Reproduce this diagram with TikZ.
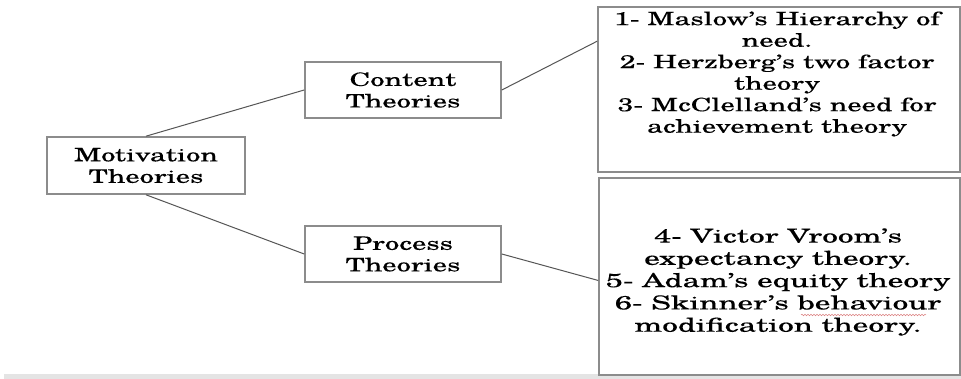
\documentclass[tikz,border=0pt]{standalone}
\usepackage{fontspec}
\setmainfont{texgyreschola-regular.otf}[FakeStretch=1.55, FakeBold=0.12]
\newfontfamily\widelist{texgyreschola-regular.otf}[FakeStretch=1.63, FakeBold=0.12]
\usetikzlibrary{calc,decorations.pathmorphing}

\definecolor{boxline}{RGB}{140,140,140}
\definecolor{linkline}{RGB}{85,85,85}
\definecolor{pageedge}{RGB}{228,228,228}
\definecolor{spellred}{RGB}{220,130,130}

\tikzset{
  x=1pt, y=1pt,
  frame/.style={draw=boxline, line width=1.6pt, fill=white, inner sep=0pt},
  txt/.style={align=center, inner sep=0pt, font=\fontsize{18.5}{21.5}\selectfont},
  txtwide/.style={align=center, inner sep=0pt, font=\widelist\fontsize{19.2}{22.3}\selectfont},
  link/.style={draw=linkline, line width=1pt},
  spellwave/.style={draw=spellred, line width=0.5pt,
    decorate, decoration={snake, amplitude=0.8pt, segment length=3pt}}
}

\begin{document}
\begin{tikzpicture}
\useasboundingbox (0,0) rectangle (961,379);
\fill[white] (0,0) rectangle (961,379);
% light strip along the lower edge
\fill[pageedge] (4,0) rectangle (961,4.5);

% boxes
\node[frame, minimum width=198, minimum height=57] (mot) at (146,213.5) {};
\node[frame, minimum width=196, minimum height=56] (con) at (403,289) {};
\node[frame, minimum width=196, minimum height=56] (pro) at (403,125) {};
\node[frame, minimum width=362, minimum height=165] (lista) at (779,289.5) {};
\node[frame, minimum width=361, minimum height=197] (listb) at (779.5,102.5) {};

% box texts
\node[txt] (motT) at (mot) {Motivation\\Theories};
\node[txt] (conT) at (con) {Content\\Theories};
\node[txt] (proT) at (pro) {Process\\Theories};
\node[txt] (listaT) at (777,305) {1- Maslow’s Hierarchy of\\need.\\2- Herzberg’s two factor\\theory\\3- McClelland’s need for\\achievement theory};
\node[txtwide] (listbT) at (778,97) {4- Victor Vroom’s\\expectancy theory.\\5- Adam’s equity theory\\6- Skinner’s behaviour\\modification theory.};

% spelling mark under "behaviour"
\coordinate (waveA) at (801,64);
\coordinate (waveB) at (926,64);
\draw[spellwave] (waveA) -- (waveB);

% connectors
\draw[link] (mot.north) -- (con.west);
\draw[link] (mot.south) -- (pro.west);
\draw[link] (con.east) -- ($(lista.north west)!0.21!(lista.south west)$);
\draw[link] (pro.east) -- ($(listb.north west)!0.52!(listb.south west)$);
\end{tikzpicture}
\end{document}
